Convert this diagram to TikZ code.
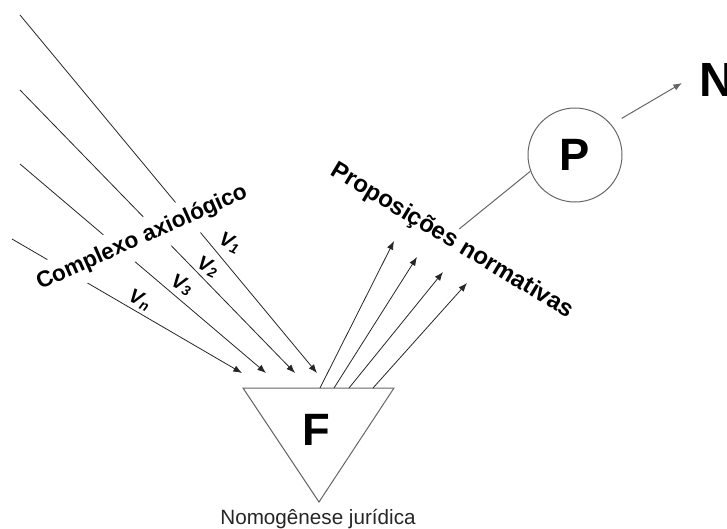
\documentclass[tikz,border=0pt]{standalone}
\usepackage{fontspec}
\setmainfont{Liberation Sans}
\usetikzlibrary{
    arrows.meta
}
\tikzset {
    ray/.style = {draw = black!85, line width = 0.6pt},
    ray arrow/.style = {ray, arrows = {-Latex[length = 6.5pt, width = 5pt]}},
    outline/.style = {draw = black!60, line width = 0.75pt},
    slanted text/.style = {
        font = \fontsize{17}{17}\selectfont\bfseries,
        inner xsep = 2pt,
        inner ysep = 6pt
    },
    value/.style = {font = \fontsize{15}{15}\selectfont\bfseries\itshape, rotate = -25, inner sep = 0pt},
    big letter/.style = {font = \fontsize{34}{34}\selectfont\bfseries, inner sep = 0pt},
}

\begin{document}
\begin{tikzpicture}[x = 0.75pt, y = -0.75pt]
    \useasboundingbox (0, 0) rectangle (727, 528);
    % incoming values
    \coordinate (s1) at (20,  15);
    \coordinate (s2) at (20,  90);
    \coordinate (s3) at (20, 164);
    \coordinate (s4) at (12, 239);
    \coordinate (e1) at (317, 373);
    \coordinate (e2) at (295, 373);
    \coordinate (e3) at (266, 373);
    \coordinate (e4) at (242, 373);
    \draw [ray arrow] (s1) -- (e1);
    \draw [ray arrow] (s2) -- (e2);
    \draw [ray arrow] (s3) -- (e3);
    \draw [ray arrow] (s4) -- (e4);
    \node (cx) [slanted text, fill = white, rotate = 24] at (142, 238) {Complexo axiológico};
    \node (v1) [value] at (230, 243) {V\textsubscript{1}};
    \node (v2) [value] at (208, 267) {V\textsubscript{2}};
    \node (v3) [value] at (182, 285) {V\textsubscript{3}};
    \node (vn) [value] at (140, 300) {V\textsubscript{n}};
    % fact
    \coordinate (tl) at (243, 388);
    \coordinate (tr) at (394, 388);
    \coordinate (tb) at (319, 502);
    \draw [outline] (tl) -- (tr) -- (tb) -- cycle;
    \node (f) [big letter] at (316, 430) {F};
    \node (nomo) [font = \fontsize{15.5}{15.5}\selectfont, text = black!85] at (318, 519) {Nomogênese jurídica};
    % outgoing propositions
    \coordinate (o1) at (320, 388);
    \coordinate (o2) at (334, 388);
    \coordinate (o3) at (349, 388);
    \coordinate (o4) at (373, 388);
    \coordinate (p1) at (394, 241);
    \coordinate (p2) at (417, 257);
    \coordinate (p3) at (443, 272);
    \coordinate (p4) at (467, 283);
    \draw [ray arrow] (o1) -- (p1);
    \draw [ray arrow] (o2) -- (p2);
    \draw [ray arrow] (o3) -- (p3);
    \draw [ray arrow] (o4) -- (p4);
    \node (prop) [slanted text, font = \fontsize{18}{18}\selectfont\bfseries, inner ysep = 2pt, rotate = -31] at (452, 241) {Proposições normativas};
    % norm
    \node (P) [outline, circle, minimum size = 70.5pt, big letter] at (575, 155) {P};
    \node (N) [big letter, font = \fontsize{36}{36}\selectfont\bfseries] at (717, 80) {N};
    \coordinate (nt) at (682, 83);
    \draw [outline] (prop.north) -- (P.200);
    \draw [outline, arrows = {-Latex[length = 6.5pt, width = 5pt]}, shorten <= 9pt] (P.40) -- (nt);
\end{tikzpicture}
\end{document}
